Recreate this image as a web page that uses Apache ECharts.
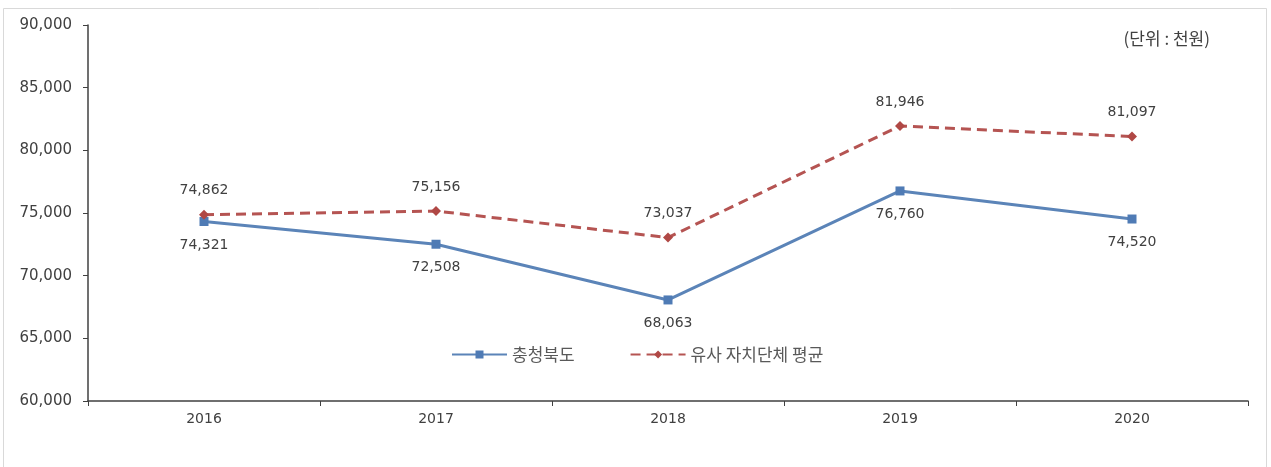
<!DOCTYPE html>
<html><head><meta charset="utf-8">
<script src="https://cdn.jsdelivr.net/npm/echarts@6/dist/echarts.min.js"></script>
<style>html,body{margin:0;padding:0;background:#fff}#c{width:1271px;height:467px}</style>
</head><body><div id="c"></div>
<script>
const categories = ['2016','2017','2018','2019','2020'];
const chungbuk = [74321, 72508, 68063, 76760, 74520];
const similarAvg = [74862, 75156, 73037, 81946, 81097];
const seriesNames = ['충청북도', '유사 자치단체 평균'];
const unitText = '(단위 : 천원)';
const FONT = '"Noto Sans CJK KR", "Noto Sans", sans-serif';
const NUMFONT = '"DejaVu Sans", "Noto Sans CJK KR", sans-serif';
const chart = echarts.init(document.getElementById('c'), null, {renderer:'canvas'});
const fmt = v => v.toLocaleString('en-US');
chart.setOption({
  animation:false,
  backgroundColor:'#fff',
  textStyle:{fontFamily:FONT},
  graphic:[
    {type:'rect', shape:{x:3.5,y:8.5,width:1263,height:470}, style:{fill:'none', stroke:'#d9d9d9', lineWidth:1}},
    {type:'text', right:61, top:30, style:{text:unitText, fontSize:17, fill:'#404040', fontFamily:FONT}}
  ],
  grid:{left:88, right:23, top:25, bottom:66, containLabel:false},
  legend:{
    left:446, top:341, itemGap:55, itemWidth:55, itemHeight:10,
    textStyle:{fontSize:17, color:'#595959', fontFamily:FONT},
    data:seriesNames
  },
  xAxis:{
    type:'category', data:categories, boundaryGap:true,
    axisLine:{lineStyle:{color:'#404040', width:1.5}},
    axisTick:{show:true, length:5, lineStyle:{color:'#404040'}},
    axisLabel:{fontSize:14, color:'#404040', margin:11, fontFamily:NUMFONT}
  },
  yAxis:{
    type:'value', min:60000, max:90000, interval:5000,
    axisLine:{show:true, lineStyle:{color:'#404040', width:1.5}},
    axisTick:{show:true, length:5, lineStyle:{color:'#404040'}},
    splitLine:{show:false},
    axisLabel:{fontSize:15, color:'#404040', margin:16, formatter:v=>fmt(v), fontFamily:NUMFONT}
  },
  series:[
    {
      name:seriesNames[0], type:'line', data:chungbuk,
      symbol:'rect', symbolSize:9,
      lineStyle:{color:'#5B84B8', width:3},
      itemStyle:{color:'#4F7BB5'},
      label:{show:true, position:'bottom', distance:12, fontSize:14, color:'#404040', formatter:p=>fmt(p.value), fontFamily:NUMFONT}
    },
    {
      name:seriesNames[1], type:'line', data:similarAvg,
      symbol:'diamond', symbolSize:10,
      lineStyle:{color:'#B55452', width:3, type:[10,6]},
      itemStyle:{color:'#B04845'},
      label:{show:true, position:'top', distance:12, fontSize:14, color:'#404040', formatter:p=>fmt(p.value), fontFamily:NUMFONT}
    }
  ]
});
</script></body></html>
